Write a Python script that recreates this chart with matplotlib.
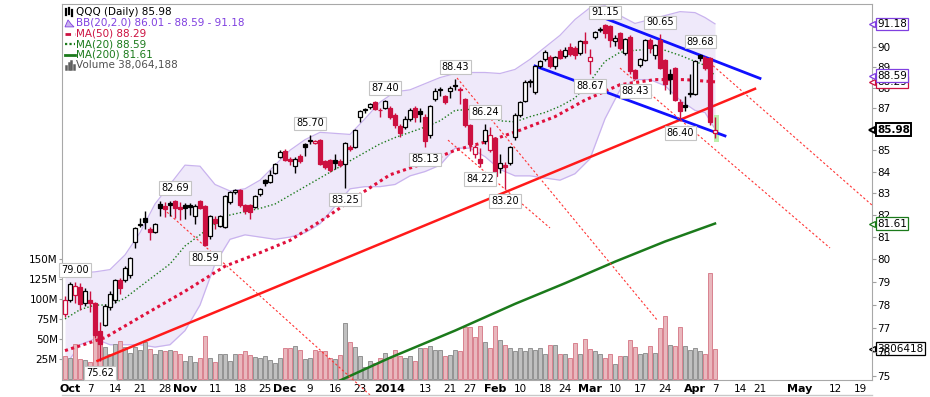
import numpy as np
import pandas as pd
import matplotlib
matplotlib.use("Agg")
import matplotlib.pyplot as plt
from matplotlib.lines import Line2D
from matplotlib.patches import Polygon, Rectangle
from matplotlib.ticker import FixedLocator, NullLocator, FuncFormatter

W, H = 930, 397

# trading calendar (index 0 = 30 Sep 2013)
holidays = ["2013-11-28", "2013-12-25", "2014-01-01", "2014-01-20",
            "2014-02-17", "2014-04-18", "2014-05-26"]
days = pd.bdate_range("2013-09-30", "2014-05-30", freq="C", holidays=holidays)

# QQQ daily candles
opens = [77.6, 78.2, 78.45, 78.8, 78.1, 78.2, 78.1, 76.9, 77.15, 77.9,
         78.2, 79.1, 79.1, 79.3, 80.8, 81.55, 81.85, 81.35, 81.25, 82.5,
         82.4, 82.55, 82.65, 82.35, 82.45, 82.45, 81.95, 82.65, 82.4, 81.05,
         81.8, 81.5, 81.45, 82.6, 83.05, 83.15, 82.45, 82.45, 82.35, 82.95,
         83.6, 83.5, 83.95, 84.7, 84.95, 84.6, 84.25, 84.75, 85.3, 85.45,
         85.35, 85.5, 84.5, 84.55, 84.55, 84.5, 84.35, 85.15, 85.15, 86.6,
         86.95, 87.05, 87.3, 86.92, 87.0, 87.0, 86.7, 86.15, 86.1, 86.5,
         87.0, 86.85, 86.6, 85.7, 87.45, 87.95, 87.6, 87.85, 88.15, 87.95,
         87.45, 86.2, 84.8, 84.6, 85.45, 85.0, 85.6, 84.15, 84.3, 84.4,
         85.65, 86.7, 87.35, 88.35, 87.8, 89.05, 89.4, 89.5, 89.05, 89.8,
         89.55, 90.0, 89.95, 89.7, 90.3, 89.3, 90.5, 90.85, 91.1, 91.05,
         90.3, 90.7, 89.7, 90.5, 88.85, 89.1, 89.35, 90.35, 89.6, 90.35,
         89.35, 88.7, 88.95, 87.3, 87.15, 87.75, 87.7, 89.6, 89.45, 89.45,
         85.8]
highs = [78.4, 79.0, 79.0, 78.95, 78.75, 78.6, 78.15, 77.25, 78.05, 78.6,
         79.15, 79.2, 79.7, 80.1, 81.45, 81.85, 82.2, 81.45, 81.65, 82.65,
         82.6, 82.65, 82.69, 82.6, 82.55, 82.55, 82.5, 82.68, 82.45, 82.0,
         81.95, 82.0, 82.9, 83.1, 83.2, 83.2, 82.5, 82.5, 82.9, 83.25,
         83.65, 84.05, 84.4, 85.0, 85.05, 84.7, 84.7, 84.8, 85.35, 85.70,
         85.5, 85.55, 84.55, 84.6, 84.8, 84.6, 85.4, 85.25, 86.0, 86.9,
         87.0, 87.25, 87.35, 87.0, 87.40, 87.1, 86.8, 86.25, 86.65, 87.0,
         87.1, 87.0, 86.75, 87.15, 88.0, 88.05, 87.65, 88.1, 88.43, 88.05,
         87.5, 86.25, 85.25, 85.1, 86.24, 86.1, 85.65, 84.8, 84.45, 85.2,
         86.8, 87.35, 88.4, 88.45, 89.1, 89.35, 89.85, 89.6, 89.55, 89.9,
         90.0, 90.2, 90.05, 90.35, 90.75, 89.9, 90.8, 91.0, 91.15, 91.1,
         90.6, 90.75, 90.45, 90.6, 88.9, 89.45, 90.4, 90.45, 90.15, 90.65,
         89.4, 88.9, 89.0, 87.45, 87.6, 88.7, 89.35, 89.68, 89.55, 89.5,
         86.6]
lows = [77.5, 78.15, 78.1, 77.8, 77.95, 77.7, 76.6, 75.62, 77.1, 77.8,
        78.1, 78.5, 79.0, 79.2, 80.5, 81.45, 81.35, 80.85, 81.2, 81.95,
        81.9, 81.95, 81.85, 81.75, 81.8, 82.0, 81.6, 82.25, 80.59, 80.9,
        81.35, 81.45, 81.4, 82.5, 82.95, 82.35, 82.05, 81.8, 82.3, 82.85,
        83.35, 83.45, 83.9, 84.65, 84.5, 84.3, 83.95, 84.4, 84.75, 85.3,
        85.3, 84.3, 84.1, 84.0, 84.1, 84.2, 83.25, 84.95, 85.1, 86.35,
        86.8, 86.95, 86.9, 86.6, 86.95, 86.5, 86.05, 85.65, 86.0, 86.4,
        86.35, 86.35, 85.13, 85.6, 87.35, 87.6, 87.2, 87.5, 87.9, 87.2,
        86.1, 84.95, 84.65, 84.22, 85.3, 84.9, 83.6, 83.95, 83.20, 84.3,
        85.5, 86.6, 87.3, 88.05, 87.7, 88.95, 89.3, 88.95, 88.9, 89.4,
        89.45, 89.55, 89.4, 89.6, 89.7, 88.67, 90.4, 90.75, 90.45, 90.0,
        90.05, 89.85, 89.6, 88.7, 88.43, 89.0, 89.3, 89.7, 89.4, 88.9,
        87.9, 87.7, 87.35, 86.40, 86.85, 87.55, 87.65, 89.3, 88.85, 86.2,
        85.6]
closes = [78.2, 78.9, 78.85, 78.05, 78.6, 78.1, 76.7, 76.35, 77.95, 78.5,
          79.1, 78.75, 79.6, 80.05, 81.4, 81.6, 81.7, 81.25, 81.6, 82.3,
          82.25, 82.45, 82.3, 82.25, 82.3, 82.35, 82.4, 82.3, 80.65, 81.95,
          81.65, 81.95, 82.85, 83.05, 83.15, 82.45, 82.2, 82.15, 82.85, 83.2,
          83.45, 83.85, 84.35, 84.9, 84.55, 84.5, 84.6, 84.5, 85.15, 85.5,
          85.45, 84.35, 84.2, 84.05, 84.4, 84.3, 85.35, 85.05, 85.95, 86.85,
          86.9, 87.2, 86.95, 86.9, 87.35, 86.6, 86.2, 85.8, 86.5, 86.9,
          86.6, 86.75, 85.45, 87.1, 87.85, 87.9, 87.3, 88.0, 88.1, 87.9,
          86.2, 85.3, 85.15, 84.4, 85.95, 85.7, 83.8, 84.4, 84.2, 85.15,
          86.7, 87.3, 88.3, 88.3, 89.05, 89.3, 89.75, 89.05, 89.5, 89.45,
          89.85, 89.65, 89.6, 90.3, 90.2, 89.5, 90.75, 90.9, 90.7, 90.35,
          90.45, 89.95, 90.4, 88.8, 88.5, 89.4, 90.35, 89.95, 90.1, 88.95,
          88.2, 88.45, 87.4, 86.85, 87.05, 87.7, 89.3, 89.45, 88.95, 86.35,
          85.98]
prev_close = 78.6   # close of 27 Sep, sets the colour of the first bar

# volume in millions
volume = [29, 26, 44, 25, 24, 22, 67, 52, 40, 31,
          44, 48, 40, 33, 40, 37, 46, 38, 31, 36,
          35, 37, 35, 31, 23, 29, 21, 27, 54, 27,
          22, 32, 32, 23, 32, 31, 35, 30, 28, 27,
          29, 24, 20, 27, 39, 39, 41, 37, 25, 26,
          36, 35, 35, 27, 25, 30, 70, 46, 40, 29,
          15, 23, 20, 26, 33, 27, 36, 29, 27, 29,
          23, 39, 39, 42, 37, 37, 29, 30, 36, 35,
          65, 65, 53, 67, 46, 39, 67, 49, 43, 39,
          35, 39, 35, 39, 36, 39, 32, 43, 43, 32,
          32, 27, 45, 32, 50, 38, 35, 32, 27, 31,
          19, 29, 29, 49, 40, 31, 33, 42, 33, 64,
          79, 43, 42, 65, 41, 37, 39, 35, 31, 133,
          38.064188]

# Bollinger bands (20, 2.0), read every few sessions
bb_idx = [0, 3, 6, 9, 12, 15, 18, 21, 24, 27, 30, 33, 36, 39, 42, 45, 48, 51,
          54, 57, 60, 63, 66, 69, 72, 75, 78, 81, 84, 87, 90, 93, 96, 99, 102,
          105, 108, 111, 114, 117, 120, 123, 126, 128, 130]
bb_upper = [79.35, 79.4, 79.45, 79.55, 80.2, 81.2, 82.5, 83.4, 84.3, 84.25,
            83.4, 83.1, 83.2, 83.6, 84.3, 85.0, 85.5, 85.85, 85.8, 85.75,
            86.5, 87.3, 87.8, 87.9, 88.2, 88.5, 88.7, 88.75, 88.75, 88.7,
            88.9, 89.4, 90.0, 90.6, 91.4, 92.0, 92.1, 91.6, 91.2, 91.4,
            91.6, 91.8, 91.75, 91.5, 91.18]
bb_mid = [77.4, 77.8, 78.0, 78.0, 78.3, 78.8, 79.3, 79.8, 80.6, 81.1,
          81.6, 82.0, 82.15, 82.3, 82.5, 82.9, 83.3, 83.7, 84.1, 84.5,
          84.9, 85.3, 85.6, 85.85, 86.1, 86.4, 86.9, 86.95, 86.75, 86.4,
          86.35, 86.6, 86.8, 87.1, 87.5, 88.3, 89.3, 89.75, 89.85, 89.9,
          89.85, 89.6, 89.3, 89.1, 88.59]
bb_lower = [75.4, 76.3, 76.55, 76.3, 76.3, 76.3, 76.2, 76.3, 76.9, 78.0,
            79.8, 80.9, 81.1, 81.0, 80.9, 81.0, 81.2, 81.6, 82.4, 83.2,
            83.3, 83.3, 83.4, 83.8, 84.0, 84.3, 85.1, 85.1, 84.7, 84.1,
            83.8, 83.8, 83.7, 83.6, 83.9, 84.6, 86.5, 87.9, 88.4, 88.4,
            88.1, 87.4, 86.9, 86.8, 86.01]

ma50_idx = [0, 8, 16, 24, 32, 39, 45, 52, 59, 65, 72, 78, 85, 91, 98, 104, 111, 118, 124, 130]
ma50 = [76.05, 76.6, 77.6, 78.6, 79.7, 80.3, 80.85, 81.85, 82.95, 83.85,
        84.4, 85.0, 85.45, 85.95, 86.6, 87.4, 88.15, 88.4, 88.4, 88.29]
ma200_idx = [55, 65, 78, 90, 100, 110, 120, 130]
ma200 = [74.8, 75.75, 76.9, 78.05, 78.95, 79.9, 80.8, 81.61]

# hand drawn lines: (session index, price) pairs
trend_red = ([6.5, 138], [75.62, 87.95])
chan_top = ([108, 139], [91.46, 88.46])
chan_bot = ([94, 132], [89.07, 85.68])
dashed = [([78.4, 118.6], [88.48, 77.31]),
          ([76.6, 97.0], [85.48, 81.41]),
          ([111, 153], [88.97, 80.51]),
          ([127.6, 161.4], [89.52, 82.45])]
dashed_long = ([20.4, 61], [82.13, 74.2])   # runs past the bottom of the pane

# labelled swing points (index, high or low)
pivots = [(2, "H"), (7, "L"), (22, "H"), (28, "L"), (49, "H"), (56, "L"),
          (64, "H"), (72, "L"), (78, "H"), (84, "H"), (83, "L"), (88, "L"),
          (105, "L"), (108, "H"), (119, "H"), (114, "L"), (127, "H"), (123, "L")]

tick_dates = ["2013-10-01", "2013-10-07", "2013-10-14", "2013-10-21", "2013-10-28",
              "2013-11-01", "2013-11-11", "2013-11-18", "2013-11-25",
              "2013-12-02", "2013-12-09", "2013-12-16", "2013-12-23",
              "2014-01-02", "2014-01-13", "2014-01-21", "2014-01-27",
              "2014-02-03", "2014-02-10", "2014-02-18", "2014-02-24",
              "2014-03-03", "2014-03-10", "2014-03-17", "2014-03-24",
              "2014-04-01", "2014-04-07", "2014-04-14", "2014-04-21",
              "2014-05-01", "2014-05-12", "2014-05-19"]
tick_text = ["Oct", "7", "14", "21", "28", "Nov", "11", "18", "25",
             "Dec", "9", "16", "23", "2014", "13", "21", "27",
             "Feb", "10", "18", "24", "Mar", "10", "17", "24",
             "Apr", "7", "14", "21", "May", "12", "19"]

# colours
RED = "#cc1040"
PINK = "#e9b7bd"
PINK_E = "#d9828f"
GREY = "#c0c0c0"
GREY_E = "#929292"
LAV = "#efe9fa"
LAV_E = "#c9b3ee"
PURPLE = "#8040e0"
DGREEN = "#1b7a1b"

x = np.arange(len(closes))
o, h, l, c = map(np.array, (opens, highs, lows, closes))
prev = np.r_[prev_close, c[:-1]]
down = c < prev
hollow = c >= o
col = np.where(down, RED, "black")

fig = plt.figure(figsize=(W / 100, H / 100), dpi=100)
rect = [62 / W, 1 - 380 / H, 810 / W, 376 / H]
ax_bb = fig.add_axes(rect)
ax_vol = fig.add_axes(rect, sharex=ax_bb)
ax = fig.add_axes(rect, sharex=ax_bb)

for a in (ax_bb, ax):
    a.set_yscale("log")
    a.set_ylim(74.82, 92.19)
    a.yaxis.set_minor_locator(NullLocator())
ax.set_xlim(-0.6, 161.4)
ax_vol.set_ylim(-1, 469)

# bollinger band fill sits behind everything
ax_bb.fill_between(bb_idx, bb_lower, bb_upper, color=LAV, lw=0)
ax_bb.plot(bb_idx, bb_upper, color=LAV_E, lw=0.9)
ax_bb.plot(bb_idx, bb_lower, color=LAV_E, lw=0.9)
ax_bb.axis("off")

# volume
ax_vol.bar(x, volume, width=0.82, color=np.where(down, PINK, GREY),
           edgecolor=np.where(down, PINK_E, GREY_E), lw=0.7)
ax_vol.patch.set_visible(False)
for s in ax_vol.spines.values():
    s.set_visible(False)
ax_vol.tick_params(axis="x", bottom=False, labelbottom=False)
ax_vol.yaxis.set_major_locator(FixedLocator([25, 50, 75, 100, 125, 150]))
ax_vol.yaxis.set_major_formatter(FuncFormatter(lambda v, p: f"{v:.0f}M"))
ax_vol.tick_params(axis="y", length=2, color="#a0a0a0", labelsize=7.5, pad=1)

# price pane
ax.patch.set_visible(False)
ax.plot(bb_idx, bb_mid, color=DGREEN, lw=1.0, ls=(0, (1, 1.6)), zorder=3)
ax.plot(ma50_idx, ma50, color="#e0103c", lw=2.2, ls=(0, (1, 1.1)), zorder=3)
ax.plot(ma200_idx, ma200, color=DGREEN, lw=1.8, zorder=3)

ax.plot(*trend_red, color="#ff1a1a", lw=1.8, zorder=4)
ax.plot(*chan_top, color="#1010ff", lw=2, zorder=4)
ax.plot(*chan_bot, color="#1010ff", lw=2, zorder=4)
for xs, ys in dashed:
    ax.plot(xs, ys, color="#ff3333", lw=0.8, ls=(0, (2, 2)), zorder=4)
ax.plot(*dashed_long, color="#ff3333", lw=0.8, ls=(0, (2, 2)), zorder=4, clip_on=False)

# highlight on the last bar
ax.add_patch(Rectangle((129.7, 85.4), 1.2, 1.3, color="#bdf0ae", lw=0, zorder=2))

# candles
ax.vlines(x, l, h, colors=col, lw=1, zorder=5)
lo_b = np.minimum(o, c)
hi_b = np.maximum(o, c)
ax.bar(x, hi_b - lo_b, bottom=lo_b, width=0.75, color=np.where(hollow, "white", col),
       edgecolor=col, lw=0.9, zorder=6)

# swing labels
for i, kind in pivots:
    val = highs[i] if kind == "H" else lows[i]
    ax.annotate(f"{val:.2f}", xy=(i, val), xytext=(0, 12 if kind == "H" else -12),
                textcoords="offset pixels", ha="center", va="center", fontsize=7,
                bbox=dict(boxstyle="square,pad=0.18", fc="white", ec="#c4c4c4", lw=0.8),
                zorder=20)

# axes styling
for s in ax.spines.values():
    s.set_color("#a8a8a8")
ax.yaxis.tick_right()
ax.yaxis.set_major_locator(FixedLocator(list(range(75, 92))))
ax.yaxis.set_major_formatter(FuncFormatter(lambda v, p: f"{v:.0f}"))
ax.tick_params(axis="y", length=3, color="#a0a0a0", labelsize=7.5, pad=1)

tick_pos = [days.get_loc(pd.Timestamp(d)) for d in tick_dates]
ax.set_xticks(tick_pos)
ax.set_xticklabels(tick_text)
ax.tick_params(axis="x", length=0, labelsize=7.5, pad=3)
for lab in ax.get_xticklabels():
    if not lab.get_text().isdigit() or lab.get_text() == "2014":
        lab.set_fontweight("bold")
        lab.set_fontsize(8)

fig.add_artist(Line2D([62 / W, 872 / W], [1 - 395 / H] * 2, color="#c8c8c8", lw=1))

# value tags on the right edge
def tag(axis, y, text, ec, bold=False, lw=0.9):
    axis.annotate(text, xy=(1, y), xycoords=("axes fraction", "data"), xytext=(5, 0),
                  textcoords="offset pixels", ha="left", va="center", fontsize=7.5,
                  fontweight="bold" if bold else "normal", annotation_clip=False,
                  bbox=dict(boxstyle="square,pad=0.12", fc="white", ec=ec, lw=lw), zorder=30)
    axis.plot([1.0], [y], marker="<", ms=5, mfc="white", mec=ec, mew=lw,
              transform=axis.get_yaxis_transform(), clip_on=False, zorder=31)

tag(ax, ma50[-1], f"{ma50[-1]:.2f}", RED)
tag(ax, bb_mid[-1], f"{bb_mid[-1]:.2f}", PURPLE)
tag(ax, bb_upper[-1], f"{bb_upper[-1]:.2f}", PURPLE)
tag(ax, closes[-1], f"{closes[-1]:.2f}", "black", bold=True, lw=1.4)
tag(ax, ma200[-1], f"{ma200[-1]:.2f}", DGREEN)
vol_last = int(round(volume[-1] * 1e6))
tag(ax_vol, volume[-1], str(vol_last)[:7], "black")

# legend block, top left
def fx(px):
    return px / W

def fy(py):
    return 1 - py / H

legend = [(f"QQQ (Daily) {closes[-1]:.2f}", "black"),
          (f"BB(20,2.0) {bb_lower[-1]:.2f} - {bb_mid[-1]:.2f} - {bb_upper[-1]:.2f}", PURPLE),
          (f"MA(50) {ma50[-1]:.2f}", RED),
          (f"MA(20) {bb_mid[-1]:.2f}", DGREEN),
          (f"MA(200) {ma200[-1]:.2f}", DGREEN),
          (f"Volume {vol_last:,}", "#505050")]
rows = [12.3 + 10.6 * k for k in range(len(legend))]
for (txt, cl), ry in zip(legend, rows):
    fig.text(fx(76), fy(ry), txt, color=cl, fontsize=7.5, ha="left", va="center")

# small legend icons
y0 = rows[0]
for px, a, b in [(66, -3, 3), (69, -4, 2), (72, -2, 4)]:
    fig.add_artist(Line2D([fx(px)] * 2, [fy(y0 + a), fy(y0 + b)], color="black", lw=1.6))
y1 = rows[1]
fig.add_artist(Polygon([(fx(65), fy(y1 + 4)), (fx(68), fy(y1 - 3)), (fx(71), fy(y1 + 1)),
                        (fx(74), fy(y1 + 4))], closed=True, fc=LAV_E, ec=PURPLE, lw=0.6,
                       transform=fig.transFigure))
fig.add_artist(Line2D([fx(65), fx(75)], [fy(rows[2])] * 2, color=RED, lw=2, ls=(0, (2, 1.5))))
fig.add_artist(Line2D([fx(65), fx(75)], [fy(rows[3])] * 2, color=DGREEN, lw=1.6, ls=(0, (1, 1))))
fig.add_artist(Line2D([fx(65), fx(75)], [fy(rows[4])] * 2, color=DGREEN, lw=2))
y5 = rows[5]
for px, a in [(66, 1), (68.5, -2), (71, -4), (73.5, 0)]:
    fig.add_artist(Line2D([fx(px)] * 2, [fy(y5 + 4), fy(y5 + a)], color="#606060", lw=1.8))

fig.savefig("out.png", dpi=100)
